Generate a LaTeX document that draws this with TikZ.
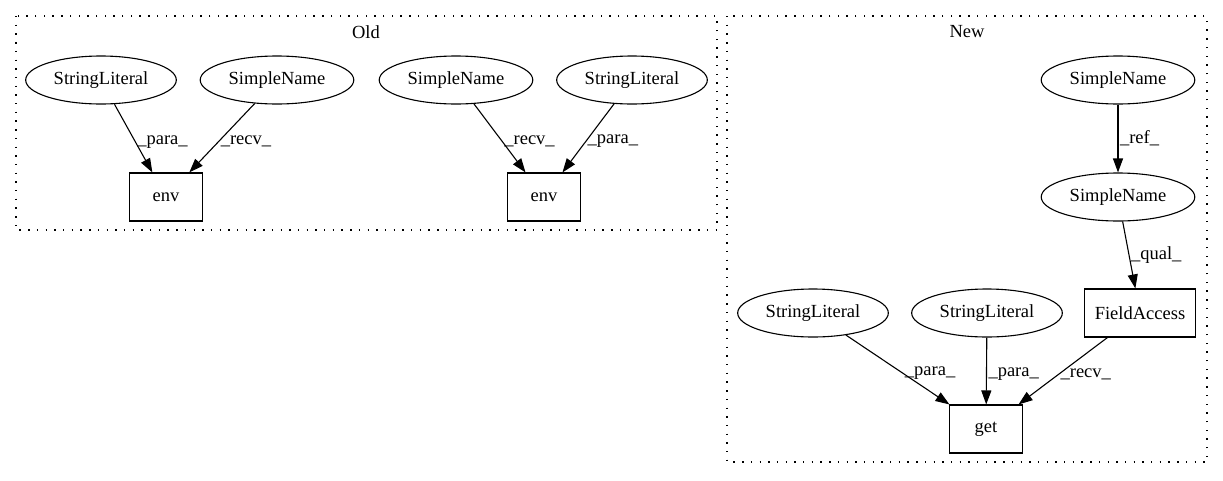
\documentclass[tikz,border=0pt]{standalone}
\usepackage{fontspec}
\setmainfont{Liberation Serif}
\usepackage{tikz}
\usetikzlibrary{shapes.geometric,arrows.meta}
\newcommand{\gvfont}{\fontsize{18.5}{22}\selectfont}
\tikzset{
  nd_ell/.style={ellipse,draw=black,line width=1.1pt,inner xsep=6pt,inner ysep=0pt,minimum height=48pt,font=\gvfont},
  nd_box/.style={rectangle,draw=black,line width=1.1pt,inner xsep=10pt,minimum width=73pt,minimum height=48pt,font=\gvfont},
  arr/.style={-{Triangle[length=14pt,width=10pt]},line width=1.1pt},
  lbl/.style={pos=0.55,anchor=west,inner sep=1.5pt,font=\gvfont},
  clus/.style={line width=1.3pt,dash pattern=on 1.4pt off 7.3pt},
}

\begin{document}
\begin{tikzpicture}[x=1pt,y=-1pt]
\useasboundingbox (0,0) rectangle (1223,480);
\def\rA{80}\def\rB{197}\def\rC{313}\def\rD{429}
% clusters
\draw[clus](16,16) rectangle (717,230);
\node[font=\gvfont] at (366,32)(TO){Old};
\draw[clus](727,16) rectangle (1207,462);
\node[font=\gvfont] at (967,32)(TN){New};
% Old
\node[nd_ell] at (101,\rA)(OL1){StringLiteral};
\node[nd_ell] at (277,\rA)(ON1){SimpleName};
\node[nd_box] at (166,\rB)(OE1){env};
\node[nd_ell] at (456,\rA)(ON2){SimpleName};
\node[nd_ell] at (632,\rA)(OL2){StringLiteral};
\node[nd_box] at (544,\rB)(OE2){env};
% New
\node[nd_ell] at (1118,\rA)(NN1){SimpleName};
\node[nd_ell] at (1118,\rB)(NN2){SimpleName};
\node[nd_box] at (1140,\rC)(NF){FieldAccess};
\node[nd_ell] at (813,\rC)(NL1){StringLiteral};
\node[nd_ell] at (987,\rC)(NL2){StringLiteral};
\node[nd_box] at (986,\rD)(NG){get};
% arrows
\draw[arr](OL1)--(OE1) node[lbl]{\_para\_};
\draw[arr](ON1)--(OE1) node[lbl]{\_recv\_};
\draw[arr](ON2)--(OE2) node[lbl]{\_recv\_};
\draw[arr](OL2)--(OE2) node[lbl]{\_para\_};
\draw[arr](NN1)--(NN2) node[lbl,pos=0.5]{\_ref\_};
\draw[arr](NN2)--(NF) node[lbl,pos=0.5]{\_qual\_};
\draw[arr](NL1)--(NG) node[lbl]{\_para\_};
\draw[arr](NL2)--(NG) node[lbl]{\_para\_};
\draw[arr](NF)--(NG) node[lbl]{\_recv\_};
\end{tikzpicture}
\end{document}
